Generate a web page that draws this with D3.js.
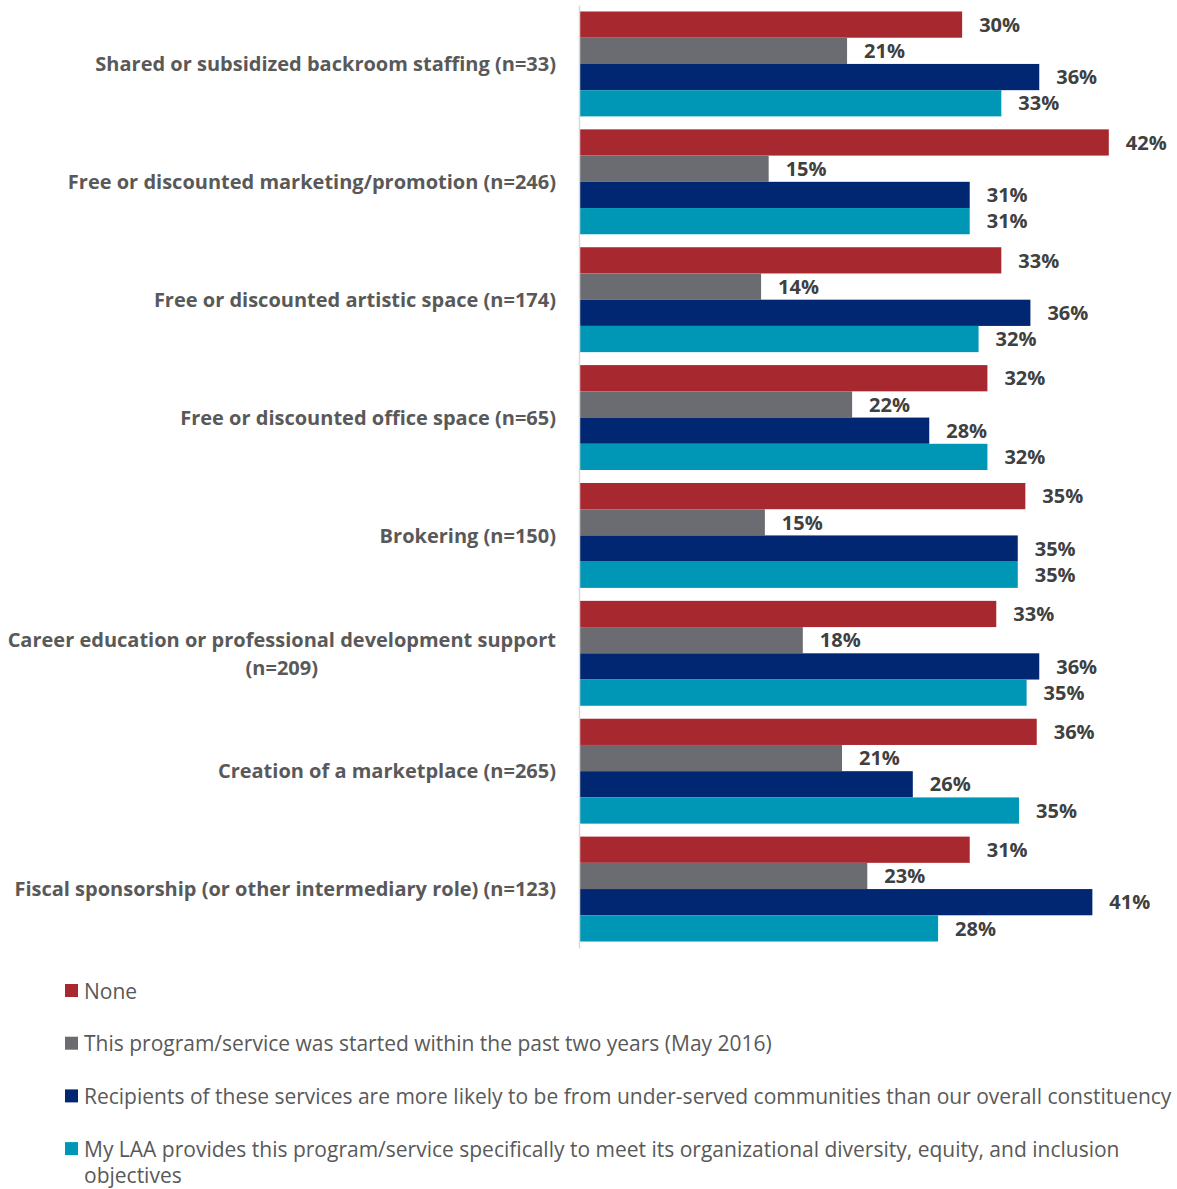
<!DOCTYPE html>
<html>
<head>
<meta charset="utf-8">
<title>LAA programs and services</title>
<script src="https://cdn.jsdelivr.net/npm/d3@7"></script>
<style>
  body { margin: 0; background: #fff; }
  svg { display: block; font-family: "Open Sans", Lato, sans-serif; }
  .cat { font-weight: bold; font-size: 20px; fill: #595959; }
  .val { font-weight: bold; font-size: 20px; fill: #404040; }
  .legend text { font-size: 21px; fill: #595959; }
  .axis path { stroke: #d9d9d9; stroke-width: 1.5px; }
</style>
</head>
<body>
<svg id="chart" width="1177" height="1189">
  <g id="bars"></g>
  <g id="yAxisGroup" class="axis"></g>
  <g id="labels"></g>
  <g id="legend" class="legend"></g>
</svg>
<script>
// categories, top to bottom
var categories = [
  "Shared or subsidized backroom staffing (n=33)",
  "Free or discounted marketing/promotion (n=246)",
  "Free or discounted artistic space (n=174)",
  "Free or discounted office space (n=65)",
  "Brokering (n=150)",
  "Career education or professional development support (n=209)",
  "Creation of a marketplace (n=265)",
  "Fiscal sponsorship (or other intermediary role) (n=123)"
];
var seriesNames = [
  "None",
  "This program/service was started within the past two years (May 2016)",
  "Recipients of these services are more likely to be from under-served communities than our overall constituency",
  "My LAA provides this program/service specifically to meet its organizational diversity, equity, and inclusion objectives"
];
var colors = ["#a8282f", "#6b6c71", "#012672", "#0097b6"];
// shares, in category order
var none        = [0.303, 0.419, 0.334, 0.323, 0.353, 0.330, 0.362, 0.309];
var recent      = [0.212, 0.150, 0.144, 0.216, 0.147, 0.177, 0.208, 0.228];
var underserved = [0.364, 0.309, 0.357, 0.277, 0.347, 0.364, 0.264, 0.406];
var dei         = [0.334, 0.309, 0.316, 0.323, 0.347, 0.354, 0.348, 0.284];

var seriesValues = [none, recent, underserved, dei];
var data = categories.map(function(c, i) {
  return { category: c, values: seriesValues.map(function(s, k) { return { key: k, value: s[i] }; }) };
});

var chart = d3.select("#chart");
var fmt = d3.format(".0%");

var x = d3.scaleLinear().domain([0, 0.45]).range([579, 1148]);
var y = d3.scaleBand().domain(categories).range([5, 948])
  .paddingInner(0.11).paddingOuter(0.055);
var yInner = d3.scaleBand().domain(d3.range(seriesNames.length)).range([0, y.bandwidth()]);

// bars
var groups = d3.select("#bars").selectAll("g")
  .data(data)
  .enter().append("g")
    .attr("transform", function(d) { return "translate(0," + y(d.category) + ")"; });
groups.selectAll("rect")
  .data(function(d) { return d.values; })
  .enter().append("rect")
    .attr("x", x(0))
    .attr("y", function(d) { return yInner(d.key); })
    .attr("width", function(d) { return x(d.value) - x(0); })
    .attr("height", yInner.bandwidth())
    .attr("fill", function(d) { return colors[d.key]; });
groups.selectAll("text")
  .data(function(d) { return d.values; })
  .enter().append("text")
    .attr("class", "val")
    .attr("x", function(d) { return x(d.value) + 17; })
    .attr("y", function(d) { return yInner(d.key) + yInner.bandwidth() / 2; })
    .attr("dy", "0.36em")
    .text(function(d) { return fmt(d.value); });

// axis line
d3.select("#yAxisGroup")
  .attr("transform", "translate(" + x(0) + ",0)")
  .call(d3.axisLeft(y).tickSize(0).tickSizeOuter(0).tickFormat(""));

// word wrap into tspans
function wrapLines(textSel, str, maxWidth) {
  var words = str.split(" "), lines = [], line = [];
  var probe = textSel.append("tspan");
  words.forEach(function(w) {
    line.push(w);
    probe.text(line.join(" "));
    if (probe.node().getComputedTextLength() > maxWidth && line.length > 1) {
      line.pop();
      lines.push(line.join(" "));
      line = [w];
    }
  });
  lines.push(line.join(" "));
  probe.remove();
  return lines;
}

// category labels
var lineH = 28;
var labelRight = 556;
d3.select("#labels").selectAll("text")
  .data(categories)
  .enter().append("text")
    .attr("class", "cat")
    .each(function(c) {
      var t = d3.select(this);
      var lines = wrapLines(t, c, 560);
      var cy = y(c) + y.bandwidth() / 2 - (lines.length - 1) * lineH / 2;
      var spans = lines.map(function(l, i) {
        return t.append("tspan").attr("y", cy + i * lineH).attr("dy", "0.36em").text(l);
      });
      var widest = d3.max(spans, function(s) { return s.node().getComputedTextLength(); });
      if (lines.length === 1) {
        spans[0].attr("x", labelRight).attr("text-anchor", "end");
      } else {
        spans.forEach(function(s) { s.attr("x", labelRight - widest / 2).attr("text-anchor", "middle"); });
      }
    });

// legend
var legend = d3.select("#legend").selectAll("g")
  .data(seriesNames)
  .enter().append("g")
    .attr("transform", function(d, i) { return "translate(65," + (991 + i * 52.7) + ")"; });
legend.append("rect")
  .attr("x", 0).attr("y", -7)
  .attr("width", 13).attr("height", 13)
  .attr("fill", function(d, i) { return colors[i]; });
legend.append("text")
  .each(function(d) {
    var t = d3.select(this);
    wrapLines(t, d, 1095).forEach(function(l, i) {
      t.append("tspan").attr("x", 19).attr("y", i * 26).attr("dy", "0.36em").text(l);
    });
  });
</script>
</body>
</html>
